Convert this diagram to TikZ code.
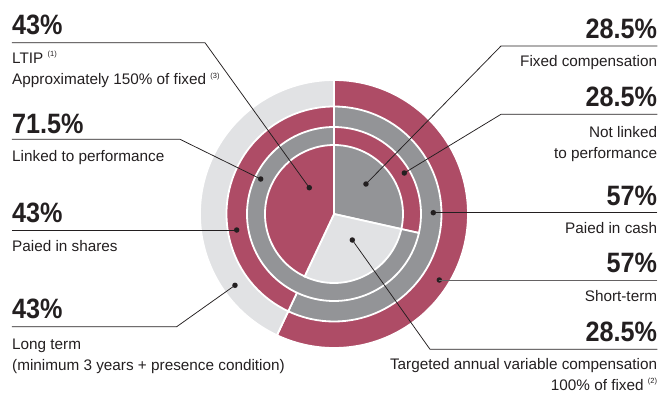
\documentclass[tikz,border=0pt]{standalone}
\usepackage{fontspec}
\setmainfont{Liberation Sans}
\newfontfamily\numfont{Liberation Sans}[FakeStretch=0.9]
\usepackage{tikz}
\definecolor{wine}{HTML}{AE4C66}
\definecolor{midgray}{HTML}{939497}
\definecolor{pale}{HTML}{E1E2E4}
\definecolor{ink}{HTML}{231F20}

\newcommand{\piepart}[4]{%
  \filldraw[sector, fill=#1] (0,0) -- (#2:#4pt) arc[start angle=#2, end angle=#3, radius=#4pt] -- cycle;}
\newcommand{\fnote}[1]{\raisebox{7pt}{\fontsize{7.5}{8}\selectfont(#1)}}

\tikzset{
  sector/.style={draw=white, line width=1.8pt},
  dot/.style={circle, fill=ink, inner sep=0pt, minimum size=5.5pt},
  leader/.style={draw=ink, line width=0.75pt},
  bignum/.style={inner sep=0pt, text=ink, font=\numfont\bfseries\fontsize{28}{28}\selectfont},
  caption/.style={inner sep=0pt, text=ink, font=\fontsize{15.3}{21}\selectfont},
}

\begin{document}
\begin{tikzpicture}[x=1pt, y=1pt]
  \useasboundingbox (-334,-180) rectangle (328,214);
  % rings %
  \piepart{wine}{90}{-115.2}{134}
  \piepart{pale}{-115.2}{-270}{134}
  \piepart{midgray}{90}{-115.2}{107.5}
  \piepart{wine}{-115.2}{-270}{107.5}
  \piepart{wine}{90}{-12.6}{87}
  \piepart{midgray}{-12.6}{-270}{87}
  \piepart{midgray}{90}{-12.6}{69}
  \piepart{pale}{-12.6}{-115.2}{69}
  \piepart{wine}{-115.2}{-270}{69}

  % left texts (multi-line ones sit on their last baseline) %
  \node[bignum, anchor=base west] (ltipval) at (-322,179) {43\%};
  \node[caption, anchor=base west, align=left] (ltiptxt) at (-322,129)
    {LTIP \fnote{1}\\Approximately 150\% of fixed \fnote{3}};
  \node[bignum, anchor=base west] (linkedval) at (-322,81) {71.5\%};
  \node[caption, anchor=base west] (linkedtxt) at (-322,52.3) {Linked to performance};
  \node[bignum, anchor=base west] (sharesval) at (-322,-8.7) {43\%};
  \node[caption, anchor=base west] (sharestxt) at (-322,-37.7) {Paied in shares};
  \node[bignum, anchor=base west] (longval) at (-322,-104) {43\%};
  \node[caption, anchor=base west, align=left] (longtxt) at (-322,-156)
    {Long term\\(minimum 3 years + presence condition)};

  % right texts %
  \node[bignum, anchor=base east] (fixedval) at (323.3,175.7) {28.5\%};
  \node[caption, anchor=base east] (fixedtxt) at (323.3,147.3) {Fixed compensation};
  \node[bignum, anchor=base east] (notlinkedval) at (323.3,107.3) {28.5\%};
  \node[caption, anchor=base east, align=right] (notlinkedtxt) at (323.3,55.7)
    {Not linked\\to performance};
  \node[bignum, anchor=base east] (cashval) at (323.3,9) {57\%};
  \node[caption, anchor=base east] (cashtxt) at (323.3,-19.3) {Paied in cash};
  \node[bignum, anchor=base east] (shortval) at (323.3,-58.7) {57\%};
  \node[caption, anchor=base east] (shorttxt) at (323.3,-87.7) {Short-term};
  \node[bignum, anchor=base east] (targetval) at (323.3,-127.7) {28.5\%};
  \node[caption, anchor=base east, align=right] (targettxt) at (323.3,-176)
    {Targeted annual variable compensation\\100\% of fixed \fnote{2}};

  % leader ends %
  \coordinate (ltipend) at (-322,171.3);
  \coordinate (ltipknee) at (-129,171.3);
  \coordinate (linkedend) at (-322,74.7);
  \coordinate (linkedknee) at (-154,74.7);
  \coordinate (sharesend) at (-322,-16);
  \coordinate (longend) at (-322,-112.7);
  \coordinate (longknee) at (-157.3,-112.7);
  \coordinate (fixedend) at (323.3,168);
  \coordinate (fixedknee) at (167,168);
  \coordinate (notlinkedend) at (323.3,99.7);
  \coordinate (notlinkedknee) at (167,99.7);
  \coordinate (cashend) at (323.3,1.3);
  \coordinate (shortend) at (323.3,-66);
  \coordinate (targetend) at (323.3,-135.3);
  \coordinate (targetknee) at (96,-135.3);

  % dots %
  \node[dot] (ltipdot) at (-24.7,26.3) {};
  \node[dot] (linkeddot) at (-73.3,35) {};
  \node[dot] (sharesdot) at (-97.3,-16) {};
  \node[dot] (longdot) at (-99,-71.3) {};
  \node[dot] (fixeddot) at (32,30) {};
  \node[dot] (notlinkeddot) at (70.3,41) {};
  \node[dot] (cashdot) at (99.3,1.3) {};
  \node[dot] (shortdot) at (105.3,-66) {};
  \node[dot] (targetdot) at (18.3,-26) {};

  % leaders %
  \draw[leader] (ltipend) -- (ltipknee) -- (ltipdot.center);
  \draw[leader] (linkedend) -- (linkedknee) -- (linkeddot.center);
  \draw[leader] (sharesend) -- (sharesdot.center);
  \draw[leader] (longend) -- (longknee) -- (longdot.center);
  \draw[leader] (fixedend) -- (fixedknee) -- (fixeddot.center);
  \draw[leader] (notlinkedend) -- (notlinkedknee) -- (notlinkeddot.center);
  \draw[leader] (cashend) -- (cashdot.center);
  \draw[leader, draw=ink!70] (shortend) -- (shortdot.center);
  \draw[leader] (targetend) -- (targetknee) -- (targetdot.center);
\end{tikzpicture}
\end{document}
